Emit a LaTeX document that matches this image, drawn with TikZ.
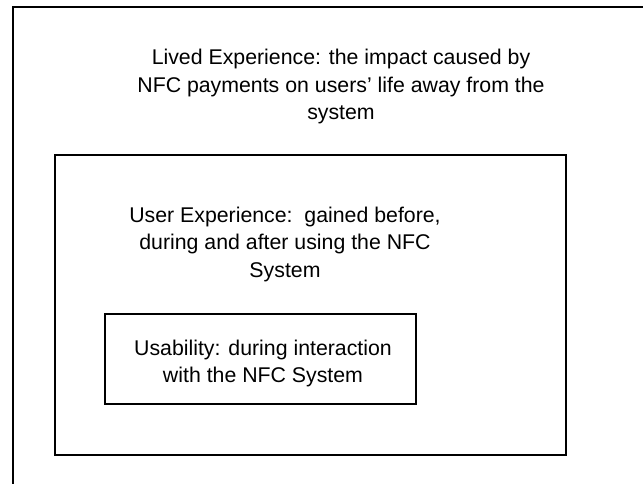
\documentclass[tikz,border=0pt]{standalone}
\usepackage{fontspec}
\setmainfont{Liberation Sans}
\begin{document}
\begin{tikzpicture}[x=1pt,y=-1pt,
  boxline/.style={draw=black,line width=2pt},
  label/.style={align=center,font=\fontsize{21.3}{27.5}\selectfont,inner sep=0pt}]
\useasboundingbox (0,0) rectangle (643,484);
\fill[white] (0,0) rectangle (643,484);
% outer frame (only top and left visible)
\draw[boxline] (12.5,500) -- (12.5,7.5) -- (660,7.5);
% middle box
\draw[boxline] (55,155) rectangle (566,455);
% inner box
\draw[boxline] (105,314) rectangle (416,404);
\node[label] (lived) at (341,86.5) {Lived Experience: the impact caused by\\NFC payments on users’ life away from the\\system};
\node[label] (ux) at (285,244) {User Experience:\ \ gained before,\\during and after using the NFC\\System};
\node[label] (usab) at (263,363.5) {Usability: during interaction\\with the NFC System};
\end{tikzpicture}
\end{document}
